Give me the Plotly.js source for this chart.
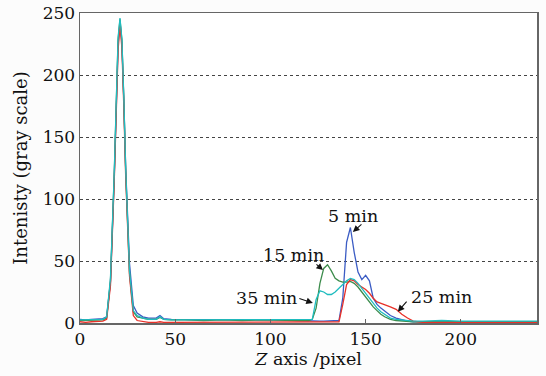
<!DOCTYPE html>
<html>
<head>
<meta charset="utf-8">
<script src="https://cdn.plot.ly/plotly-3.0.1.min.js"></script>
<style>html,body{margin:0;padding:0;background:#fcfcfc;}#chart{width:546px;height:376px;}</style>
</head>
<body>
<div id="chart"></div>
<script>
// Z axis position (pixel)
const zPos = [0,3,6,9,12,14,16,18,20,21,22,23,24,26,28,30,33,36,40,42,44,48,55,65,75,85,95,105,115,120,122,124,126,128,130,132,134,136,138,140,142,144,146,148,150,152,154,156,158,160,163,166,169,172,175,180,190,200,210,220,230,240];

const min5  = [3,2.5,3,3,3.5,5,33,118,224,243,226,180,125,48,14,8,5,4,4,6,3.5,3,3,2.5,3,2.5,3,2.5,2,1.5,1.5,1.5,1.5,1.5,1.5,1.5,1.5,2,20,65,77,57,41,35,38.5,34,20,15,12,9.5,6,4,2.5,1.5,1,1,1.5,1,1,1,1,1];
const min15 = [2,2,2.5,2,2.5,4,34,120,228,245,228,180,122,40,9,5,4,3,3,4.5,3,2.5,2.5,2,2.5,2,2.5,2,2,2,3,12,32,44,47,42,36,34,33,33,33.5,32,29,25,21,17,13,10,7,5,3,2,1.5,1,1,1,1,1,1,1,1,1];
const min25 = [1,0.5,1,1,1.5,3,30,115,220,240,222,175,118,38,6,2,1,0.5,0.5,1,0.5,0.5,0.5,0.5,0.5,0.5,0.5,0.5,0.5,0.5,0.5,0.5,0.5,0.5,0.5,0.5,0.5,1,15,31,35,34,31,29,27,24,20,17,16,15,13,11,7,4,1.5,0.5,0.5,0.5,0.5,0.5,0.5,0.5];
const min35 = [2.5,2.5,3,2.5,3,5,36,122,230,246,229,182,124,42,10,6,4,3,3,5,3,2.5,2.5,2.5,2.5,2.5,2.5,2.5,2.5,2.5,3,19,26,25,23,23,25,28,31,34,36,35,32,28,24,20,16,12,9,7,4,3,2.5,2,1.5,1.5,2,1.5,1.5,1.5,1.5,1.5];

const seriesNames = ['5 min','15 min','25 min','35 min'];
const seriesColors = ['#3b5cc4','#3c8c4c','#e8322a','#1fbcbf'];
const seriesData = [min5, min15, min25, min35];

// labels: text position and arrow tail/head, data coords
const labelText = ['5 min','15 min','35 min','25 min'];
const labelX = [143.3,112.3,98.2,190];
const labelY = [86.3,54.8,20.2,21];
const arrowTailX = [148.6,123.4,114.4,172.2];
const arrowTailY = [80.6,48.4,20.2,18.5];
const arrowHeadX = [143.3,127.6,122.3,166.9];
const arrowHeadY = [73.4,42.7,16.1,9.1];

const xTicks = [0,50,100,150,200];
const yTicks = [0,50,100,150,200,250];

const FONT = 'DejaVu Serif';

const traces = seriesData.map((y,i)=>({
  x: zPos, y: y, type:'scatter', mode:'lines', name: seriesNames[i],
  line:{color: seriesColors[i], width:1.3}
}));

const annotations = [];
labelText.forEach((t,i)=>{
  annotations.push({x:labelX[i], y:labelY[i], xref:'x', yref:'y', text:t, showarrow:false,
    font:{family:FONT, size:17.5, color:'#111'}});
  annotations.push({x:arrowHeadX[i], y:arrowHeadY[i], xref:'x', yref:'y',
    ax:arrowTailX[i], ay:arrowTailY[i], axref:'x', ayref:'y', text:'', showarrow:true,
    arrowhead:2, arrowsize:1.2, arrowwidth:1.1, arrowcolor:'#111'});
});

const layout = {
  width:546, height:376,
  margin:{l:80, r:9, t:13, b:53},
  paper_bgcolor:'#fcfcfc', plot_bgcolor:'#ffffff',
  showlegend:false,
  font:{family:FONT, size:17, color:'#111'},
  xaxis:{range:[0,240], tickvals:xTicks, ticks:'inside', ticklen:4, tickcolor:'#666',
    showline:true, mirror:true, linecolor:'#666', linewidth:1.5, showgrid:false, zeroline:false,
    tickfont:{family:FONT, size:17, color:'#111'},
    title:{text:'<i>Z</i> axis /pixel', font:{family:FONT, size:17.5, color:'#111'}, standoff:5}},
  yaxis:{range:[0,250], tickvals:yTicks, ticks:'', showline:true, mirror:true, linecolor:'#666', linewidth:1.5,
    showgrid:true, gridcolor:'#444', griddash:'dot', gridwidth:1, zeroline:false,
    tickfont:{family:FONT, size:17, color:'#111'},
    title:{text:'Intenisty (gray scale)', font:{family:FONT, size:18, color:'#111'}, standoff:10}},
  annotations: annotations
};

Plotly.newPlot('chart', traces, layout, {displayModeBar:false, staticPlot:true});
</script>
</body>
</html>
